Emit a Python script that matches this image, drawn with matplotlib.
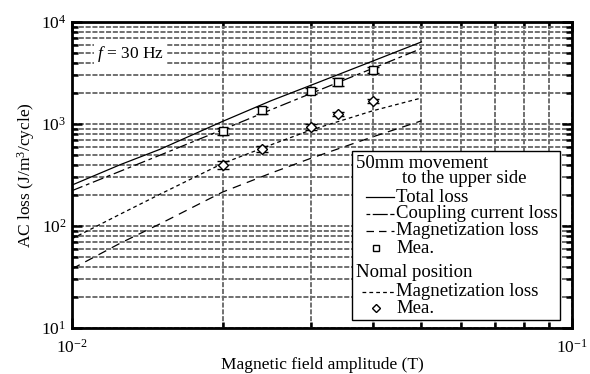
import numpy as np
import matplotlib
matplotlib.use("Agg")
import matplotlib.pyplot as plt
from matplotlib.patches import Rectangle
from matplotlib.lines import Line2D

plt.rcParams['font.family'] = ['Liberation Serif', 'DejaVu Serif']
plt.rcParams['mathtext.fontset'] = 'custom'
plt.rcParams['mathtext.rm'] = 'Liberation Serif'
plt.rcParams['mathtext.it'] = 'Liberation Serif:italic'

# calculated curves (field amplitude in T, loss in J/m^3/cycle)
b_calc = [0.01, 0.0125, 0.015, 0.02, 0.025, 0.03, 0.04, 0.05]
total_loss = [252, 400, 565, 1060, 1690, 2390, 4150, 6380]
coupling_loss = [222, 345, 495, 880, 1380, 1985, 3520, 5500]
magnet_loss_up = [38, 68, 105, 215, 330, 460, 750, 1075]
magnet_loss_nomal = [75, 131, 205, 410, 625, 870, 1350, 1800]

# measured values
b_mea = [0.02, 0.024, 0.03, 0.034, 0.04]
mea_up = [845, 1370, 2110, 2580, 3390]
mea_up_err = [60, 110, 150, 230, 220]
mea_nomal = [397, 569, 935, 1255, 1680]
mea_nomal_err = [35, 40, 60, 70, 90]

fig = plt.figure(figsize=(5.9, 3.74), dpi=100)
ax = fig.add_axes([72/590, 46/374, 500/590, 306/374])

ax.set_xscale('log')
ax.set_yscale('log')
ax.set_xlim(0.01, 0.1)
ax.set_ylim(10, 1e4)

grid_kw = dict(color='#707070', linestyle=(0, (2.6, 0.9)), linewidth=1.4)
ax.grid(True, which='both', axis='both', **grid_kw)
ax.set_axisbelow(True)

ax.plot(b_calc, total_loss, color='k', lw=0.9, ls='-')
ax.plot(b_calc, coupling_loss, color='k', lw=0.9, ls=(0, (9, 3, 3, 3)))
ax.plot(b_calc, magnet_loss_up, color='k', lw=0.9, ls=(0, (7, 5)))
ax.plot(b_calc, magnet_loss_nomal, color='k', lw=0.9, ls=(0, (3, 2.5)))

ax.errorbar(b_mea, mea_up, yerr=mea_up_err, fmt='s', ms=6, mfc='white',
            mec='k', mew=1.0, ecolor='k', elinewidth=1.0, capsize=4, capthick=1.4,
            zorder=5)
ax.errorbar(b_mea, mea_nomal, yerr=mea_nomal_err, fmt='D', ms=5.5, mfc='white',
            mec='k', mew=1.0, ecolor='k', elinewidth=1.0, capsize=4, capthick=1.4,
            zorder=5)

for s in ax.spines.values():
    s.set_linewidth(2.0)
ax.tick_params(which='both', direction='in', top=True, right=True,
               labelsize=12.5, width=1.8)
ax.tick_params(which='major', length=7)
ax.tick_params(which='minor', length=4, labelbottom=False)
ax.tick_params(axis='x', which='major', pad=8)
ax.tick_params(axis='y', which='major', pad=4)

ax.set_xlabel('Magnetic field amplitude (T)', fontsize=12.5, labelpad=0)
ax.set_ylabel('AC loss (J/m$^3$/cycle)', fontsize=12.5, labelpad=3)

ax.text(0.05, 0.895, '$f$ = 30 Hz', transform=ax.transAxes, fontsize=12.5,
        va='center', ha='left',
        bbox=dict(facecolor='white', edgecolor='none', pad=2.5))

# legend box
tr = ax.transAxes
ax.add_patch(Rectangle((0.56, 0.026), 0.416, 0.552, transform=tr,
                       facecolor='white', edgecolor='k', lw=1.0, zorder=10))
fs = 13.5
ax.text(0.568, 0.539, '50mm movement', transform=tr, fontsize=fs, va='center', zorder=11)
ax.text(0.66, 0.487, 'to the upper side', transform=tr, fontsize=fs, va='center', zorder=11)
rows = [
    (0.428, 'Total loss', '-'),
    (0.373, 'Coupling current loss', (0, (3, 2, 9, 0))),
    (0.317, 'Magnetization loss', (0, (6, 4))),
]
for y, label, ls in rows:
    ax.add_line(Line2D([0.588, 0.644], [y, y], transform=tr, color='k',
                       lw=0.9, ls=ls, zorder=11))
    ax.text(0.648, y, label, transform=tr, fontsize=fs, va='center', zorder=11)
ax.add_line(Line2D([0.608], [0.261], transform=tr, marker='s', ms=5, mfc='white',
                   mec='k', mew=1.0, ls='none', zorder=11))
ax.text(0.648, 0.261, 'Mea.', transform=tr, fontsize=fs, va='center', zorder=11)
ax.text(0.568, 0.183, 'Nomal position', transform=tr, fontsize=fs, va='center', zorder=11)
ax.add_line(Line2D([0.58, 0.644], [0.118, 0.118], transform=tr, color='k',
                   lw=0.9, ls=(0, (3, 2.5)), zorder=11))
ax.text(0.648, 0.118, 'Magnetization loss', transform=tr, fontsize=fs, va='center', zorder=11)
ax.add_line(Line2D([0.608], [0.065], transform=tr, marker='D', ms=4.5, mfc='white',
                   mec='k', mew=1.0, ls='none', zorder=11))
ax.text(0.648, 0.065, 'Mea.', transform=tr, fontsize=fs, va='center', zorder=11)

fig.savefig('out.png', dpi=100)
